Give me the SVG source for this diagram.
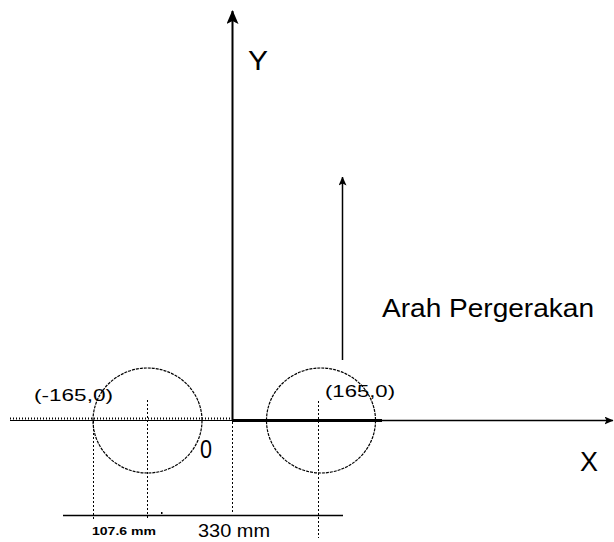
<svg xmlns="http://www.w3.org/2000/svg" width="614" height="542" viewBox="0 0 614 542">
<style>
.t{font-family:"Liberation Sans",Arial,sans-serif;fill:#000}
.ax{stroke:#000;fill:none}
.dot{stroke:#000;stroke-width:1;stroke-dasharray:2 2;fill:none}
.circ{stroke:#000;stroke-width:1.2;stroke-dasharray:3 1;fill:none}
</style>
<defs>
<marker id="ah" viewBox="0 0 14 12" refX="13" refY="6" markerWidth="14" markerHeight="12" markerUnits="userSpaceOnUse" orient="auto">
<path d="M14 6 L0 0 L3 6 L0 12 Z" fill="#000"/>
</marker>
<marker id="ah2" viewBox="0 0 9 8" refX="8.5" refY="4" markerWidth="9" markerHeight="8" markerUnits="userSpaceOnUse" orient="auto">
<path d="M9 4 L0 0 L2 4 L0 8 Z" fill="#000"/>
</marker>
</defs>
<rect width="614" height="542" fill="#fff"/>
<g id="connectors">
<line class="ax" x1="232.5" y1="420" x2="232.5" y2="11" stroke-width="2" marker-end="url(#ah)"/>
<line class="ax" x1="10" y1="420.5" x2="232" y2="420.5" stroke-width="1"/>
<line class="ax" x1="10" y1="418.5" x2="232" y2="418.5" stroke-width="2" stroke-dasharray="1 2"/>
<line class="ax" x1="232" y1="420.5" x2="382" y2="420.5" stroke-width="3"/>
<line class="ax" x1="382" y1="420.5" x2="613" y2="420.5" stroke-width="1.3" marker-end="url(#ah2)"/>
<line class="ax" x1="342.5" y1="360" x2="342.5" y2="177" stroke-width="1.5" marker-end="url(#ah2)"/>
<line class="ax" x1="63" y1="515.5" x2="343" y2="515.5" stroke-width="1.3"/>
<line class="dot" x1="93.5" y1="421" x2="93.5" y2="520"/>
<line class="dot" x1="147.5" y1="400" x2="147.5" y2="519"/>
<line class="dot" x1="232.5" y1="422" x2="232.5" y2="513"/>
<line class="dot" x1="318.5" y1="401" x2="318.5" y2="538"/>
<rect x="161" y="512" width="1.5" height="2" fill="#000"/>
</g>
<g id="wheel-left">
<ellipse class="circ" cx="147.5" cy="420.5" rx="54.5" ry="52.5"/>
<text class="t" x="34" y="401" font-size="17" textLength="79" lengthAdjust="spacingAndGlyphs">(-165,0)</text>
</g>
<g id="wheel-right">
<ellipse class="circ" cx="321" cy="420.5" rx="54.5" ry="52.5"/>
<text class="t" x="325" y="397" font-size="17" textLength="70" lengthAdjust="spacingAndGlyphs">(165,0)</text>
</g>
<g id="labels">
<text class="t" x="248" y="70" font-size="28" textLength="20" lengthAdjust="spacingAndGlyphs">Y</text>
<text class="t" x="580" y="471" font-size="28" textLength="18" lengthAdjust="spacingAndGlyphs">X</text>
<text class="t" x="200" y="458" font-size="26" textLength="12" lengthAdjust="spacingAndGlyphs">0</text>
<text class="t" x="382" y="317" font-size="25" textLength="212" lengthAdjust="spacingAndGlyphs">Arah Pergerakan</text>
<text class="t" x="92" y="535" font-size="11" font-weight="bold" textLength="64" lengthAdjust="spacingAndGlyphs">107.6 mm</text>
<text class="t" x="198" y="537" font-size="18" textLength="72" lengthAdjust="spacingAndGlyphs">330 mm</text>
</g>
</svg>
